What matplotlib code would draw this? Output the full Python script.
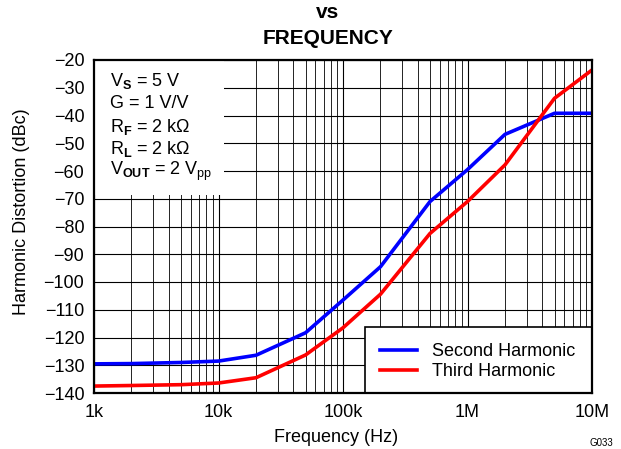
import matplotlib
matplotlib.use('Agg')
import matplotlib.pyplot as plt
from matplotlib.patches import Rectangle
from matplotlib.ticker import FixedLocator, LogLocator, NullFormatter

plt.rcParams['font.family'] = ['Liberation Sans', 'DejaVu Sans']
plt.rcParams['mathtext.fontset'] = 'custom'
plt.rcParams['mathtext.rm'] = 'Liberation Sans'
plt.rcParams['mathtext.bf'] = 'Liberation Sans:bold'
plt.rcParams['axes.unicode_minus'] = True

# valores
freq = [1e3, 2e3, 5e3, 1e4, 2e4, 5e4, 1e5, 2e5, 5e5, 1e6, 2e6, 5e6, 1e7]
segunda = [-129.5, -129.4, -129.0, -128.5, -126.4, -118.3, -106.5, -94.5, -71.0, -59.5, -46.8, -39.2, -39.2]
terceira = [-137.5, -137.3, -137.0, -136.4, -134.5, -126.3, -116.5, -104.4, -82.5, -71.0, -57.8, -33.8, -23.6]

xticks = [1e3, 1e4, 1e5, 1e6, 1e7]
xlabels = ['1k', '10k', '100k', '1M', '10M']
yticks = list(range(-20, -141, -10))

condicoes = [r'V$_\mathbf{S}$ = 5 V',
             'G = 1 V/V',
             r'R$_\mathbf{F}$ = 2 k$\Omega$',
             r'R$_\mathbf{L}$ = 2 k$\Omega$',
             r'V$_\mathbf{OUT}$ = 2 V$_\mathrm{pp}$']

FS = 13

fig = plt.figure(figsize=(6.21, 4.49), dpi=100)
ax = fig.add_axes([94 / 621, 1 - 393 / 449, 498 / 621, 333 / 449])

ax.plot(freq, segunda, color='#0000FF', lw=2.6, label='Second Harmonic', zorder=5)
ax.plot(freq, terceira, color='#FF0000', lw=2.6, label='Third Harmonic', zorder=5)

ax.set_xscale('log')
ax.set_xlim(1e3, 1e7)
ax.set_ylim(-140, -20)
ax.xaxis.set_major_locator(FixedLocator(xticks))
ax.set_xticklabels(xlabels)
ax.xaxis.set_minor_locator(LogLocator(base=10, subs=range(2, 10)))
ax.xaxis.set_minor_formatter(NullFormatter())
ax.set_yticks(yticks)
ax.set_yticklabels([f'\u2212{abs(v)}' for v in yticks])
ax.tick_params(which='both', length=0, labelsize=FS)
ax.tick_params(axis='x', pad=8)
ax.tick_params(axis='y', pad=7)
ax.grid(which='major', color='black', lw=0.8)
ax.grid(which='minor', axis='x', color='black', lw=0.6)
for s in ax.spines.values():
    s.set_linewidth(1.6)
    s.set_zorder(8)

ax.set_xlabel('Frequency (Hz)', fontsize=FS, va='center')
ax.set_ylabel('Harmonic Distortion (dBc)', fontsize=FS, va='center')
ax.xaxis.set_label_coords((336 - 94) / 498, (393 - 437) / 333)
ax.yaxis.set_label_coords((22 - 94) / 498, (393 - 212) / 333)

# caixa das condicoes (fundo branco sobre a grade)
ax.add_patch(Rectangle((0, 0.595), 0.262, 0.405, transform=ax.transAxes,
                       facecolor='white', edgecolor='none', zorder=3))
ys = [81, 104, 127, 149, 171]
for txt, y in zip(condicoes, ys):
    fig.text(110 / 621, 1 - y / 449, txt, fontsize=FS, va='center', ha='left', zorder=6)

# legenda
ax.add_patch(Rectangle(((365 - 94) / 498, 0), (592 - 365) / 498, (393 - 327) / 333,
                       transform=ax.transAxes, facecolor='white', edgecolor='black',
                       lw=1.2, zorder=6))
leg = ax.legend(loc='center left', bbox_to_anchor=((380 - 94) / 498, (393 - 361.5) / 333),
                frameon=False, fontsize=FS, handlelength=2.05, handletextpad=0.85,
                labelspacing=0.15, borderpad=0, borderaxespad=0)
leg.set_zorder(7)

fig.text(328 / 621, 1 - 13 / 449, 'vs', fontsize=15, fontweight='bold',
         ha='center', va='center')
fig.text(328 / 621, 1 - 39 / 449, 'FREQUENCY', fontsize=15, fontweight='bold',
         ha='center', va='center')
fig.text(601 / 621, 1 - 443 / 449, 'G033', fontsize=7, ha='center', va='center')

fig.savefig('out.png', dpi=100)
